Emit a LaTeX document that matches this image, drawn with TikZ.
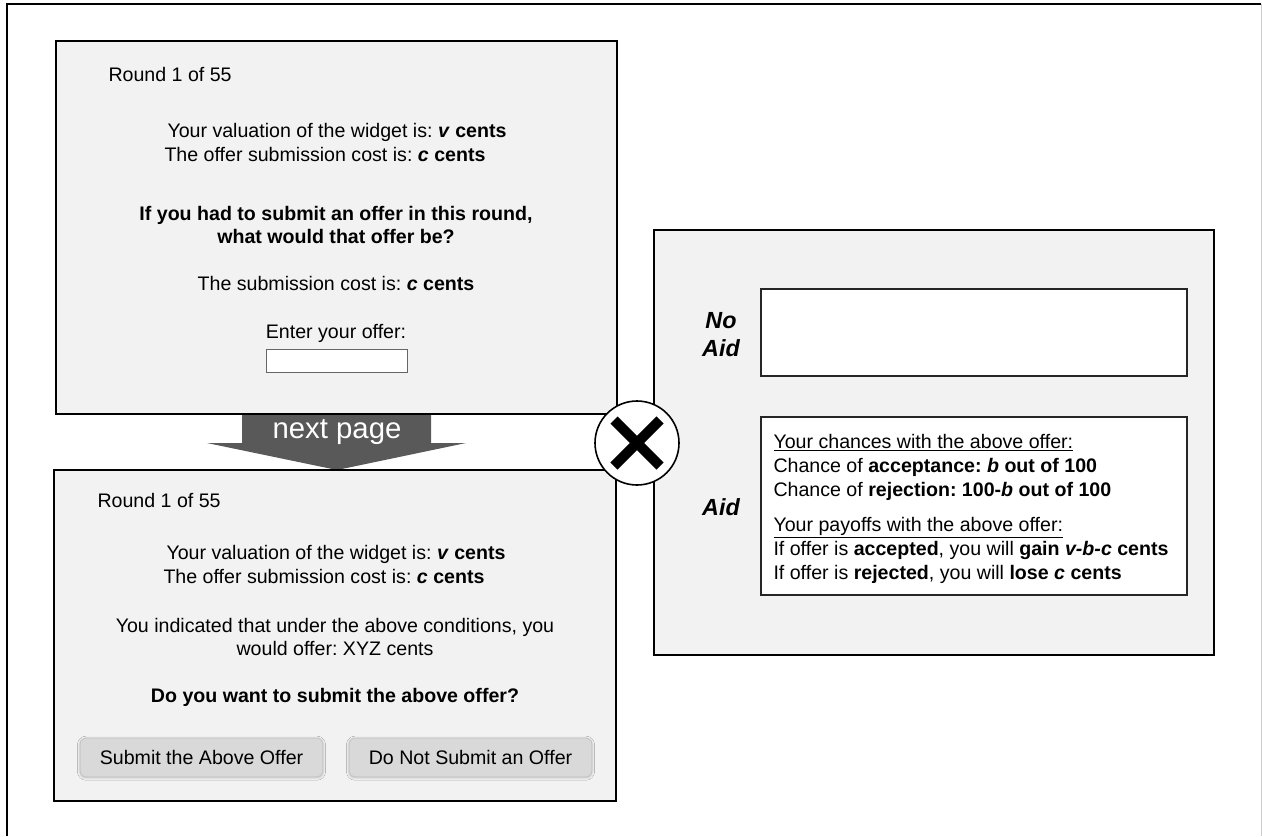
\documentclass[tikz,border=0pt]{standalone}
\usepackage{fontspec}
\setmainfont{Liberation Sans}
\usetikzlibrary{shadows.blur}
\frenchspacing

\tikzset{every picture/.style={line width=0.75pt}}
\tikzset{
  screen/.style={draw=black, line width=1.2pt, fill=black!5},
  infobox/.style={draw=black!85, line width=1.2pt, fill=white},
  txt/.style={inner sep=0.75pt, font=\fontsize{14.7}{18}\selectfont},
  lbl/.style={inner sep=0.75pt, font=\fontsize{17.5}{21}\selectfont\bfseries\itshape},
  field/.style={draw=black!60, fill=white, inner sep=0pt, minimum width=105.75pt, minimum height=17.25pt},
  btn/.style={draw=black!22, fill=black!15, rounded corners=4.5pt, inner sep=0pt,
    minimum width=182pt, minimum height=29pt, font=\fontsize{14.7}{18}\selectfont,
    blur shadow={shadow xshift=0pt, shadow yshift=-0.5pt, shadow blur radius=2pt, shadow opacity=25}},
}
\newcommand{\bi}[1]{\textbf{\textit{#1}}}

\begin{document}
\begin{tikzpicture}[x=0.75pt,y=0.75pt,yscale=-1,xscale=1]
\useasboundingbox (0,0) rectangle (1262,836);

%Shape: Frame
\draw[line width=1.2pt] (7,836) -- (7,4) -- (1261,4);
\draw[black!20] (1261,4) -- (1261,836);

%Shape: Arrow [next page]
\fill[black!65] (242,414) -- (431,414) -- (431,443) -- (466,443) -- (337,470) -- (207,443) -- (242,443) -- cycle;

%Shape: Rectangle [first page]
\draw[screen] (56,41) rectangle (617,414);
%Shape: Rectangle [second page]
\draw[screen] (54,470) rectangle (616,801);
%Shape: Rectangle [aid panel]
\draw[screen] (654,230) rectangle (1214,655);
\draw[infobox] (761,289) rectangle (1187,376);
\draw[infobox] (761,417) rectangle (1187,595);

% Text Node
\node[txt, white, font=\fontsize{22}{26}\selectfont] (nextpg) at (337,432) {next page};

% Text Node
\node[txt, anchor=base west] (round1) at (107,81) {Round 1 of 55};
% Text Node
\node[txt, anchor=base west] (val1) at (166,137) {Your valuation of the widget is: \bi{v} \textbf{cents}};
% Text Node
\node[txt, anchor=base west] (cost1) at (163,161) {The offer submission cost is: \bi{c} \textbf{cents}};
% Text Node
\node[txt, anchor=base, font=\fontsize{14.7}{18}\selectfont\bfseries] (ask1a) at (336,220) {If you had to submit an offer in this round,};
% Text Node
\node[txt, anchor=base, font=\fontsize{14.7}{18}\selectfont\bfseries] (ask1b) at (336,243) {what would that offer be?};
% Text Node
\node[txt, anchor=base] (subm1) at (336,290) {The submission cost is: \bi{c} \textbf{cents}};
% Text Node
\node[txt, anchor=base] (enter1) at (336,338) {Enter your offer:};
\node[field] (offerfield) at (336.5,360.5) {};

% Text Node
\node[txt, anchor=base west] (round2) at (96,507) {Round 1 of 55};
% Text Node
\node[txt, anchor=base west] (val2) at (165,559) {Your valuation of the widget is: \bi{v} \textbf{cents}};
% Text Node
\node[txt, anchor=base west] (cost2) at (162,583) {The offer submission cost is: \bi{c} \textbf{cents}};
% Text Node
\node[txt, anchor=base] (ind2a) at (335,632) {You indicated that under the above conditions, you};
% Text Node
\node[txt, anchor=base] (ind2b) at (335,655) {would offer: XYZ cents};
% Text Node
\node[txt, anchor=base, font=\fontsize{14.7}{18}\selectfont\bfseries] (ask2) at (335,702) {Do you want to submit the above offer?};
\node[btn] (submitbtn) at (201.5,757.5) {Submit the Above Offer};
\node[btn] (skipbtn) at (470.5,757.5) {Do Not Submit an Offer};

% Text Node
\node[lbl, anchor=base] (noaid1) at (721,328) {No};
\node[lbl, anchor=base] (noaid2) at (721,356) {Aid};
\node[lbl, anchor=base] (aid) at (721,515) {Aid};

% Text Node
\node[txt, anchor=base west] (ch0) at (772,448) {\underline{Your chances with the above offer:}};
\node[txt, anchor=base west] (ch1) at (772,472) {Chance of \textbf{acceptance: \textit{b} out of 100}};
\node[txt, anchor=base west] (ch2) at (772,496) {Chance of \textbf{rejection: 100-\textit{b} out of 100}};
\node[txt, anchor=base west] (po0) at (772,531) {\underline{Your payoffs with the above offer:}};
\node[txt, anchor=base west] (po1) at (772,555) {If offer is \textbf{accepted}, you will \textbf{gain \textit{v-b-c} cents}};
\node[txt, anchor=base west] (po2) at (772,579) {If offer is \textbf{rejected}, you will \textbf{lose \textit{c} cents}};

%Shape: Circle [either-or]
\node[circle, draw, fill=white, line width=1.2pt, inner sep=0pt, minimum size=63pt] (cross) at (637,443) {};
\draw[line width=7.5pt] (614,420) -- (660,466);
\draw[line width=7.5pt] (660,420) -- (614,466);

\end{tikzpicture}
\end{document}
